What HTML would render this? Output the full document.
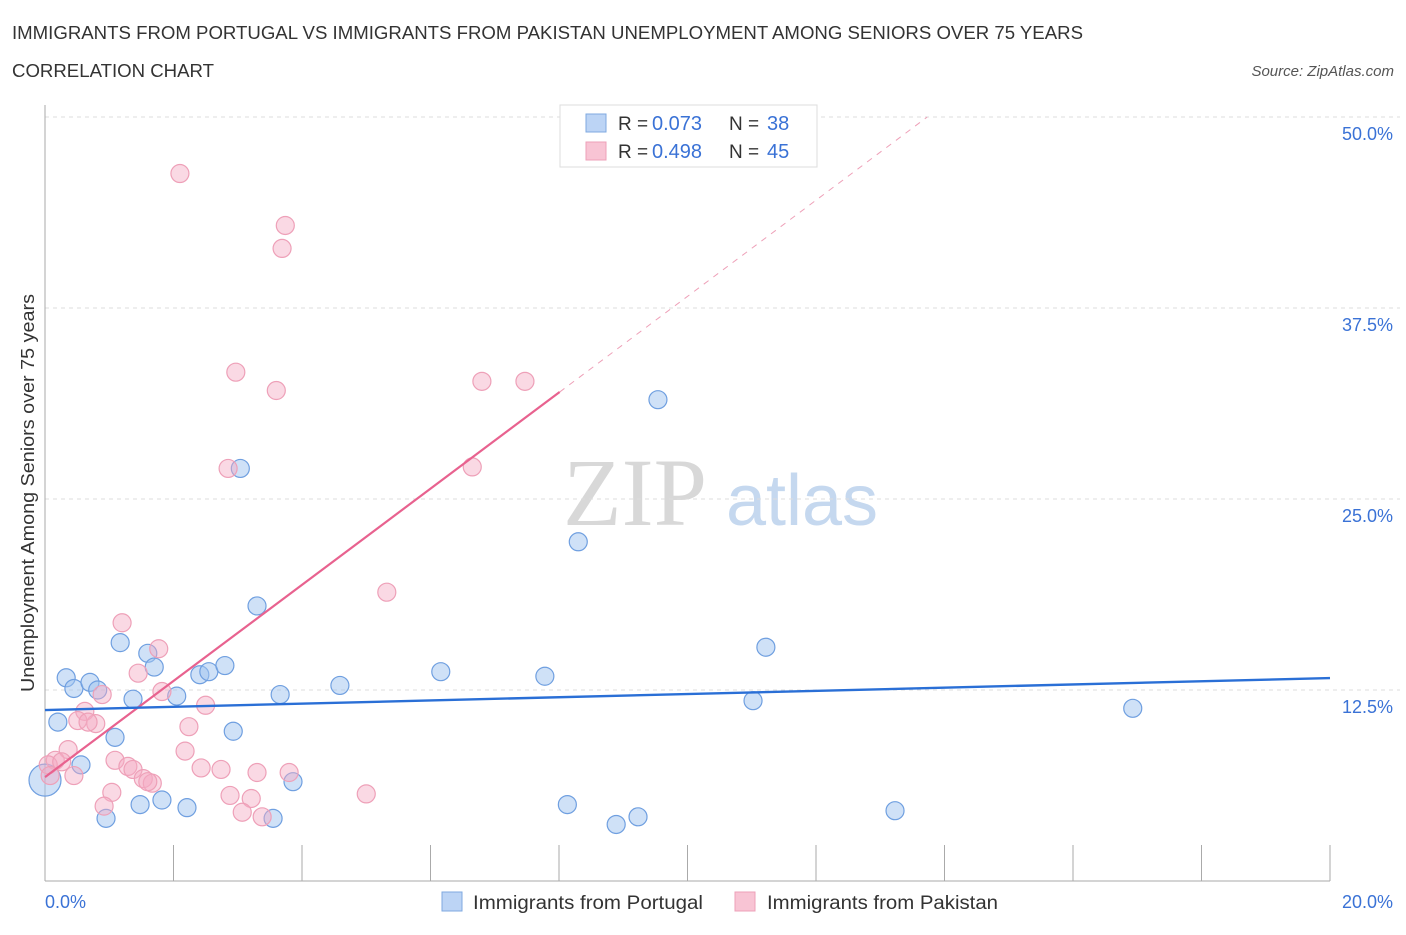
<!DOCTYPE html>
<html><head><meta charset="utf-8"><style>
body{margin:0;background:#fff;font-family:"Liberation Sans",sans-serif;}
</style></head><body>
<svg id="chart" width="1406" height="930" xmlns="http://www.w3.org/2000/svg" font-family="Liberation Sans, sans-serif">
<text x="12" y="39" font-size="18" fill="#333" textLength="1071" lengthAdjust="spacingAndGlyphs">IMMIGRANTS FROM PORTUGAL VS IMMIGRANTS FROM PAKISTAN UNEMPLOYMENT AMONG SENIORS OVER 75 YEARS</text>
<text x="12" y="77" font-size="18" fill="#333" textLength="202" lengthAdjust="spacingAndGlyphs">CORRELATION CHART</text>
<text x="1394" y="76" font-size="15" fill="#555" text-anchor="end" font-style="italic">Source: ZipAtlas.com</text>
<g>
<text x="635" y="525" font-size="96" fill="#d8d8d8" font-family="Liberation Serif, serif" text-anchor="middle">ZIP</text>
<text x="802" y="525" font-size="72" fill="#c5d8ef" text-anchor="middle">atlas</text>
</g>
<g id="grid"></g>
<g id="axes"></g>
<g id="marks"></g>
<text transform="translate(34,493) rotate(-90)" font-size="18" fill="#333" text-anchor="middle" textLength="398" lengthAdjust="spacingAndGlyphs">Unemployment Among Seniors over 75 years</text>
<g>
<rect x="560" y="105" width="257" height="62" fill="#fff" stroke="#ddd"/>
<rect x="586" y="114" width="20" height="18" fill="#bcd4f5" stroke="#7fa9e0"/>
<text x="618" y="130" font-size="19" fill="#333">R = </text>
<text x="652" y="130" font-size="20" fill="#3a72d6">0.073</text>
<text x="729" y="130" font-size="19" fill="#333">N = </text>
<text x="767" y="130" font-size="20" fill="#3a72d6">38</text>
<rect x="586" y="142" width="20" height="18" fill="#f8c4d4" stroke="#eea0b8"/>
<text x="618" y="158" font-size="19" fill="#333">R = </text>
<text x="652" y="158" font-size="20" fill="#3a72d6">0.498</text>
<text x="729" y="158" font-size="19" fill="#333">N = </text>
<text x="767" y="158" font-size="20" fill="#3a72d6">45</text>
</g>
<g>
<rect x="442" y="892" width="20" height="19" fill="#bcd4f5" stroke="#7fa9e0"/>
<text x="473" y="909" font-size="19" fill="#333" textLength="230" lengthAdjust="spacingAndGlyphs">Immigrants from Portugal</text>
<rect x="735" y="892" width="20" height="19" fill="#f8c4d4" stroke="#eea0b8"/>
<text x="767" y="909" font-size="19" fill="#333" textLength="231" lengthAdjust="spacingAndGlyphs">Immigrants from Pakistan</text>
</g>
</svg>
<script>
const yTicks=[12.5,25,37.5,50];
const yTickLabels=["12.5%","25.0%","37.5%","50.0%"];
const xTicks=[0,2,4,6,8,10,12,14,16,18,20];
const portugalX=[0.0,0.2,0.33,0.45,0.7,0.82,0.56,0.95,1.09,1.17,1.37,1.48,1.6,1.7,1.82,2.05,2.21,2.41,2.55,2.8,2.93,3.04,3.3,3.55,3.66,3.86,4.59,6.16,7.78,8.13,8.3,8.89,9.23,9.54,11.02,11.22,13.23,16.93];
const portugalY=[6.6,10.4,13.3,12.6,13.0,12.5,7.6,4.1,9.4,15.6,11.9,5.0,14.9,14.0,5.3,12.1,4.8,13.5,13.7,14.1,9.8,27.0,18.0,4.1,12.2,6.5,12.8,13.7,13.4,5.0,22.2,3.7,4.2,31.5,11.8,15.3,4.6,11.3];
const pakistanX=[2.1,3.74,3.69,2.97,3.6,6.8,7.47,6.65,2.85,5.32,1.2,1.77,1.45,1.82,0.89,2.5,0.62,0.51,0.79,0.67,2.24,0.36,2.18,0.16,0.05,0.26,1.09,1.29,1.37,1.53,1.67,1.6,2.43,2.74,3.3,3.8,0.45,0.08,1.04,0.92,2.88,3.21,3.07,3.38,5.0];
const pakistanY=[46.3,42.9,41.4,33.3,32.1,32.7,32.7,27.1,27.0,18.9,16.9,15.2,13.6,12.4,12.2,11.5,11.1,10.5,10.3,10.4,10.1,8.6,8.5,7.9,7.6,7.8,7.9,7.5,7.3,6.7,6.4,6.5,7.4,7.3,7.1,7.1,6.9,6.9,5.8,4.9,5.6,5.4,4.5,4.2,5.7];
const portugalTrend=[11.19,13.28];
const pakistanTrend=[6.8,32.0];
const pakistanTrendEndX=8.01;

const NS="http://www.w3.org/2000/svg";
const sx=v=>45+v*64.25, sy=v=>881-v*15.28;
function mk(tag,attrs,parent){const e=document.createElementNS(NS,tag);for(const k in attrs)e.setAttribute(k,attrs[k]);document.getElementById(parent).appendChild(e);return e;}
yTicks.forEach((t,i)=>{
 const g=mk('line',{x1:45,x2:1400,y1:sy(t),y2:sy(t),stroke:'#ddd','stroke-dasharray':'4,4'},'grid');
 
 
 const l=mk('text',{x:1393,y:sy(t)+23,'font-size':18,fill:'#3a72d6','text-anchor':'end'},'axes');
 l.textContent=yTickLabels[i];
 
 
});
const ax=mk('line',{x1:45,x2:45,y1:105,y2:881,stroke:'#aaa'},'axes');


const bx=mk('line',{x1:45,x2:1330,y1:881,y2:881,stroke:'#aaa'},'axes');


xTicks.forEach(t=>{
 const k=mk('line',{x1:sx(t),x2:sx(t),y1:845,y2:881,stroke:'#aaa'},'axes');
 
 
});
const x0=mk('text',{x:45,y:908,'font-size':18,fill:'#3a72d6','text-anchor':'start'},'axes');x0.textContent='0.0%';


const x1=mk('text',{x:1393,y:908,'font-size':18,fill:'#3a72d6','text-anchor':'end'},'axes');x1.textContent='20.0%';


portugalX.forEach((v,i)=>{
 const c=mk('circle',{cx:sx(v),cy:sy(portugalY[i]),r:(i===0?16:9),fill:'rgba(160,195,240,0.5)',stroke:'#6f9fe0','stroke-width':1.2},'marks');
 
 
});
pakistanX.forEach((v,i)=>{
 const c=mk('circle',{cx:sx(v),cy:sy(pakistanY[i]),r:9,fill:'rgba(245,170,195,0.45)',stroke:'#eea0b8','stroke-width':1.2},'marks');
 
 
});
const slope=(pakistanTrend[1]-pakistanTrend[0])/pakistanTrendEndX;
const dashEndX=(50-pakistanTrend[0])/slope;
const pd=mk('line',{x1:sx(pakistanTrendEndX),y1:sy(pakistanTrend[1]),x2:sx(dashEndX),y2:sy(50),stroke:'#eea0b8','stroke-dasharray':'6,6','stroke-width':1},'marks');


const pl=mk('line',{x1:sx(0),y1:sy(pakistanTrend[0]),x2:sx(pakistanTrendEndX),y2:sy(pakistanTrend[1]),stroke:'#e8628f','stroke-width':2.2},'marks');


const bl=mk('line',{x1:sx(0),y1:sy(portugalTrend[0]),x2:sx(20),y2:sy(portugalTrend[1]),stroke:'#2a6fd6','stroke-width':2.4},'marks');


</script>
</body></html>
